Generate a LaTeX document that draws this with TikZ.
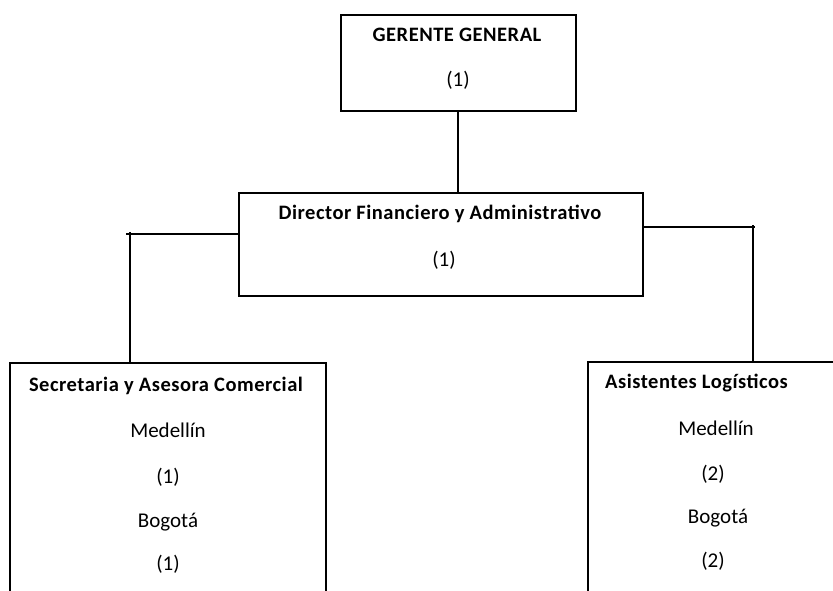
\documentclass[tikz,border=0pt]{standalone}
\usepackage{fontspec}
\setmainfont{Carlito}
\newfontfamily\titlefont[LetterSpace=2.5]{Carlito}
\usepackage{tikz}
\usetikzlibrary{positioning}

\begin{document}
\begin{tikzpicture}[x=1pt,y=-1pt]

\tikzset{box/.style = {shape=rectangle,draw,line width=1.8pt,inner sep=0pt,anchor=north west}}
\tikzset{edge/.style = {line width=1.8pt}}
\tikzset{title/.style = {font=\fontsize{20.5}{24}\titlefont\bfseries,inner sep=0pt,anchor=base}}
\tikzset{txt/.style = {font=\fontsize{21}{25}\selectfont,inner sep=0pt,anchor=base}}

\useasboundingbox (0,0) rectangle (833,591);
\clip (0,0) rectangle (833,591);

% boxes
\node[box,minimum width=235pt,minimum height=96pt] (gerente) at (340,14) {};
\node[box,minimum width=404pt,minimum height=103pt] (director) at (238,192) {};
\node[box,minimum width=316pt,minimum height=260pt] (secretaria) at (9,362) {};
\node[box,minimum width=258pt,minimum height=260pt] (asistentes) at (587,361) {};

% texts
\node[title] (gerentetit) at (457,42) {GERENTE GENERAL};
\node[txt] (gerentenum) at (458,87) {(1)};
\node[title] (directortit) at (440,219) {Director Financiero y Administrativo};
\node[txt] (directornum) at (444,266) {(1)};

\node[title] (secretariatit) at (166,391) {Secretaria y Asesora Comercial};
\node[txt] (secmed) at (168,437) {Medellín};
\node[txt] (secmednum) at (168,483) {(1)};
\node[txt] (secbog) at (168,527) {Bogotá};
\node[txt] (secbognum) at (168,570) {(1)};

\node[title,anchor=base west] (asistentestit) at (605,388) {Asistentes Logísticos};
\node[txt] (asimed) at (716,435) {Medellín};
\node[txt] (asimednum) at (713,480) {(2)};
\node[txt] (asibog) at (718,523) {Bogotá};
\node[txt] (asibognum) at (713,567) {(2)};

% corners
\coordinate (leftcorner) at (130,234);
\coordinate (rightcorner) at (753,227);

%edges
\draw[edge] (gerente.south -| gerentenum) -- (gerentenum |- director.north);
\draw[edge] (director.west |- leftcorner) -- ([xshift=-4pt]leftcorner);
\draw[edge] ([yshift=2pt]leftcorner) -- (leftcorner |- secretaria.north);
\draw[edge] (director.east |- rightcorner) -- ([xshift=2pt]rightcorner);
\draw[edge] ([yshift=2pt]rightcorner) -- (rightcorner |- asistentes.north);
\end{tikzpicture}
\end{document}
